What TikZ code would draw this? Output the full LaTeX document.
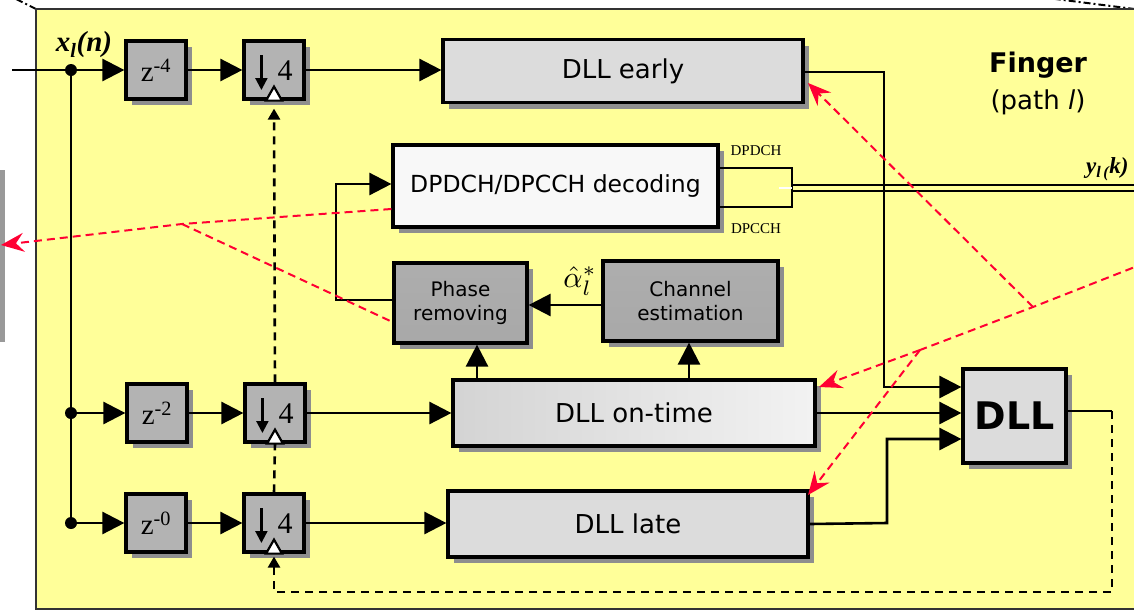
\documentclass[tikz,border=0pt]{standalone}
\usepackage{fontspec}
\usepackage{graphicx}
\setmainfont{DejaVu Sans}
\newfontfamily\serif{Liberation Serif}
\usetikzlibrary{arrows.meta,shadows,calc}

\definecolor{panelyellow}{HTML}{FFFF99}
\definecolor{shadowgray}{HTML}{8E8E8E}
\definecolor{delaygray}{HTML}{B3B3B3}
\definecolor{boxgray}{HTML}{DCDCDC}
\definecolor{decwhite}{HTML}{F8F8F8}
\definecolor{ctrlred}{HTML}{FF0033}
\definecolor{bargray}{HTML}{999999}

\tikzset{
  blk/.style={draw=black, line width=3.2pt, inner sep=0pt,
    drop shadow={shadow xshift=6pt, shadow yshift=-6pt, fill=shadowgray, opacity=1}},
  delaybox/.style={blk, fill=delaygray, minimum width=60pt, minimum height=58pt,
    font=\serif\fontsize{29}{30}\selectfont},
  dllbox/.style={blk, fill=boxgray, font=\fontsize{26}{30}\selectfont},
  gradbox/.style={blk, shading=axis, top color=black!32, middle color=black!12,
    bottom color=black!34, align=center, font=\fontsize{20}{24}\selectfont},
  sig/.style={line width=2.6pt},
  arr/.style={sig, -{Triangle[length=22pt,width=22pt]}},
  fb/.style={line width=2.6pt, dash pattern=on 8pt off 6pt},
  fbarr/.style={fb, -{Triangle[length=11pt,width=12pt]}},
  ctrl/.style={ctrlred, line width=2pt, dash pattern=on 8pt off 5pt},
  ctrlarr/.style={ctrl, -{Stealth[length=23pt,width=19pt,inset=8pt]}},
  dot/.style={circle, fill=black, inner sep=0pt, minimum size=12pt},
}

\begin{document}
\begin{tikzpicture}[x=1pt, y=-1pt]
\useasboundingbox (0,0) rectangle (1134,611);
\clip (0,0) rectangle (1134,611);
\fill[white] (0,0) rectangle (1134,611);

% neighbouring block and zoom lines
\fill[bargray] (0,170) rectangle (5,342);
\draw[line width=2pt, dash pattern=on 7pt off 3pt on 2pt off 3pt] (36,9) -- (14,-2);
\draw[line width=2pt, dash pattern=on 7pt off 3pt on 2pt off 3pt] (1150,11) -- (1040,-3);

% finger panel
\draw[fill=panelyellow, draw=black!80, line width=2pt] (36,9) rectangle (1150,609);

\node[font=\bfseries\fontsize{27}{30}\selectfont] (title) at (1038,65) {Finger};
\node[font=\fontsize{26}{30}\selectfont] (subtitle) at (1038,102) {(path \textit{l})};

% delay elements
\node[delaybox] (z4) at (156,70) {z\textsuperscript{-4}};
\node[delaybox] (z2) at (157,413) {z\textsuperscript{-2}};
\node[delaybox] (z0) at (156,523) {z\textsuperscript{-0}};

% decimators
\node[delaybox] (ds1) at (274,70) {};
\node[delaybox] (ds2) at (275,413) {};
\node[delaybox] (ds3) at (274,523) {};
\foreach \d in {ds1,ds2,ds3}{
  \draw[line width=2.2pt, -{Triangle[length=12pt,width=12pt]}]
    ($(\d.west)+(19,-15)$) -- ($(\d.west)+(19,20)$);
  \node[font=\serif\fontsize{30}{32}\selectfont] at ($(\d.center)+(11,1)$) {4};
  \draw[fill=white, line width=2.2pt] ($(\d.south)+(-8,0)$) -- ($(\d.south)+(0,-14)$)
    -- ($(\d.south)+(8,0)$) -- cycle;
}

% DLL branches
\node[dllbox, minimum width=360pt, minimum height=63pt] (early) at (623,71) {DLL early};
\node[blk, shading=axis, left color=black!17, right color=black!5,
      minimum width=362pt, minimum height=66pt, font=\fontsize{26}{30}\selectfont]
      (ontime) at (634,413) {DLL on-time};
\node[dllbox, minimum width=360pt, minimum height=66pt] (late) at (628,524) {DLL late};
\node[dllbox, minimum width=103pt, minimum height=94pt,
      font=\bfseries\fontsize{38}{40}\selectfont] (dll) at (1014.5,416) {DLL};

% demodulation
\node[blk, fill=decwhite, minimum width=325pt, minimum height=82pt,
      font=\fontsize{23.5}{26}\selectfont] (dec) at (555.5,186) {DPDCH/DPCCH decoding};
\node[gradbox, minimum width=133pt, minimum height=80pt] (phase) at (460.5,303)
      {Phase\\removing};
\node[gradbox, minimum width=175pt, minimum height=80pt] (chan) at (690.5,301)
      {Channel\\estimation};

% input distribution
\coordinate (in) at (12,70);
\node[dot] (j1) at (71,70) {};
\node[dot] (j2) at (71,413) {};
\node[dot] (j3) at (71,523) {};
\draw[sig] (in) -- (j1);
\draw[sig] (j1.center) -- (j3.center);
\draw[arr] (j1) -- (z4);
\draw[arr] (j2) -- (z2);
\draw[arr] (j3) -- (z0);
\node[font=\serif\bfseries\itshape\fontsize{29}{30}\selectfont] (xlab) at (84,45)
      {x\textsubscript{l}(n)};

\draw[arr] (z4) -- (ds1);
\draw[arr] (z2) -- (ds2);
\draw[arr] (z0) -- (ds3);
\draw[arr] (ds1) -- (early.west |- ds1);
\draw[arr] (ds2) -- (ontime);
\draw[arr] (ds3) -- (late.west |- ds3);

% channel estimation and phase removal
\draw[arr] (ontime.north -| 477,0) -- (phase.south -| 477,0);
\draw[arr] (ontime.north -| 689,0) -- (chan.south -| 689,0);
\draw[arr] (chan.west |- 0,305) -- (phase.east |- 0,305);
\node[inner sep=0pt] (alpha) at (580,281) {\scalebox{3}{$\hat{\alpha}_l^{*}$}};
\draw[arr] (phase.west |- 0,300) -- (336,300) -- (336,184) -- (dec.west |- 0,184);

% decoded outputs
\draw[sig] (dec.east |- 0,168) -- (792,168) -- (792,207) -- (dec.east |- 0,207);
\draw[line width=2.2pt] (792,185) -- (1150,185);
\draw[line width=2.2pt] (792,191) -- (1150,191);
\draw[white, line width=1.5pt] (779,188) -- (792,188);
\node[font=\serif\fontsize{15}{16}\selectfont] (dpdch) at (756,151) {DPDCH};
\node[font=\serif\fontsize{15}{16}\selectfont] (dpcch) at (756,229) {DPCCH};
\node[font=\serif\bfseries\itshape\fontsize{23}{24}\selectfont, anchor=east] (ylab)
      at (1132,169) {y\textsubscript{l\,(}k)};

% DLL inputs
\draw[arr] (early.east |- 0,72) -- (884,72) -- (884,387) -- (dll.west |- 0,387);
\draw[arr] (ontime.east) -- (dll.west |- ontime.east);
\draw[arr] (late.east) -- (887,523) -- (887,439) -- (dll.west |- 0,439);

% timing feedback to the decimators
\draw[sig] (dll.east |- 0,411) -- (1112,411);
\draw[fbarr] (1112,411) -- (1112,592) -- (274,592) -- ($(ds3.south)+(0,3)$);
\draw[fb] (ds3.north) -- (ds2.south);
\draw[fbarr] (ds2.north) -- ($(ds1.south)+(0,8)$);

% control lines
\coordinate (ra) at (1033,307);
\coordinate (rb) at (920,350);
\coordinate (rin) at (1145,263);
\draw[ctrl] (rin) -- (ra) -- (rb);
\draw[ctrlarr] (ra) -- (808,83);
\draw[ctrlarr] (rb) -- (819,387);
\draw[ctrlarr] (rb) -- (808,495);

\coordinate (lc) at (182,224);
\draw[ctrlarr] (dec.west |- 0,209) -- (lc) -- (1,245);
\draw[ctrl] (lc) -- (phase.west |- 0,322);
\end{tikzpicture}
\end{document}
